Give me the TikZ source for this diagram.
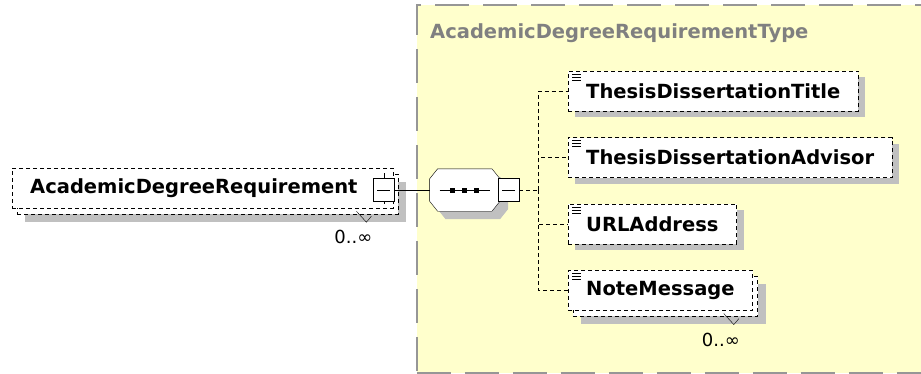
\documentclass[tikz,border=0pt]{standalone}
\usepackage{fontspec}
\setmainfont{DejaVu Sans}
\usetikzlibrary{positioning,shadows,calc}
\definecolor{typefill}{RGB}{255,255,204}
\definecolor{typeedge}{RGB}{150,150,150}
\definecolor{shadowgray}{RGB}{192,192,192}
\newcommand\elemfont{\fontsize{19.5pt}{22pt}\selectfont\bfseries}
\newcommand\octagon[3]{([shift={(8+#2,#3)}]#1.north west) -- ([shift={(-8+#2,#3)}]#1.north east)
  -- ([shift={(#2,10+#3)}]#1.north east) -- ([shift={(#2,-10+#3)}]#1.south east)
  -- ([shift={(-8+#2,#3)}]#1.south east) -- ([shift={(8+#2,#3)}]#1.south west)
  -- ([shift={(#2,-10+#3)}]#1.south west) -- ([shift={(#2,10+#3)}]#1.north west) -- cycle}

\begin{document}
\begin{tikzpicture}[x=1pt, y=-1pt,
  node distance=26pt,
  elem/.style={rectangle, draw, dash pattern=on 4pt off 3pt, fill=white, font=\elemfont, minimum height=40pt, inner xsep=18pt, inner ysep=2pt, anchor=north west,
    drop shadow={shadow xshift=7pt, shadow yshift=-6pt, fill=shadowgray, opacity=1}},
  multi/.style={rectangle, draw, dash pattern=on 4pt off 3pt, fill=white, font=\elemfont, minimum height=40pt, inner xsep=18pt, inner ysep=2pt,
    drop shadow={shadow xshift=13pt, shadow yshift=-14pt, fill=shadowgray, opacity=1},
    general shadow={shadow xshift=5pt, shadow yshift=-6pt, fill=white, draw=black}},
  btn/.style={rectangle, draw, solid, fill=white, minimum width=21pt, minimum height=23pt, inner sep=0pt,
    path picture={\draw (path picture bounding box.west) ++(4,0) -- ++(13,0);}},
  seq/.style={rectangle, minimum width=70pt, minimum height=42pt, inner sep=0pt},
  typebox/.style={rectangle, fill=typefill, draw=typeedge, line width=1.5pt, dash pattern=on 34pt off 14pt, inner sep=0pt, anchor=north west},
  occurs/.style={font=\fontsize{18pt}{20pt}\selectfont, inner sep=0pt},
  conn/.style={dash pattern=on 4pt off 3pt},
]
  \useasboundingbox (0,0) rectangle (921,373);
  \node[typebox, minimum width=514pt, minimum height=368pt] (cttype) at (416,4) {};
  \node[font=\elemfont, text=gray, anchor=west, inner sep=0pt] (ctname) at (430,33) {AcademicDegreeRequirementType};

  \node[multi, anchor=west, text width=345pt] (adr) at (12,188) {AcademicDegreeRequirement};
  \node[btn] (adrbtn) at ([xshift=-9.5pt, yshift=-2pt]adr.east) {};
  \draw (adrbtn.north) -- ++(0,-5) (adrbtn.south) -- ++(0,2);
  \node[occurs] (adrocc) at ($(adr.south east)+(-40,29)$) {0..∞};
  \draw ($(adrocc.north)+(3,-19)$) -- ++(10,11) -- ++(5,-6);

  \node[seq, right=35pt of adrbtn] (sq) {};
  \fill[shadowgray] \octagon{sq}{8}{8};
  \filldraw[fill=white] \octagon{sq}{0}{0};
  \draw ([xshift=10pt]sq.west) -- ([xshift=-10pt]sq.east);
  \foreach \dx in {-12pt,0pt,12pt}
    \fill ([xshift=\dx]sq.center) +(-2.5,-2.5) rectangle +(2.5,2.5);
  \node[btn, right=-2pt of sq] (sqbtn) {};
  \coordinate[right=19pt of sqbtn] (trunk);

  \node[elem] (title) at (568,71) {ThesisDissertationTitle};
  \node[elem, below=of title.south west, anchor=north west] (advisor) {ThesisDissertationAdvisor};
  \node[elem, below=of advisor.south west, anchor=north west] (url) {URLAddress};
  \node[multi, below=of url.south west, anchor=north west] (note) {NoteMessage};
  \node[occurs] (noteocc) at ($(note.south east)+(-32,29)$) {0..∞};
  \draw ($(noteocc.north)+(3,-19)$) -- ++(10,11) -- ++(5,-6);

  \foreach \n in {title,advisor,url,note}
    \foreach \dy in {3pt,6pt,9pt}
      \draw ([xshift=4pt, yshift=-\dy]\n.north west) -- ++(9,0);

  \draw (adrbtn) -- (sq);
  \draw[conn] (sqbtn) -- (trunk);
  \foreach \n in {title,advisor,url,note}
    \draw[conn] (trunk) |- (\n);
\end{tikzpicture}
\end{document}
